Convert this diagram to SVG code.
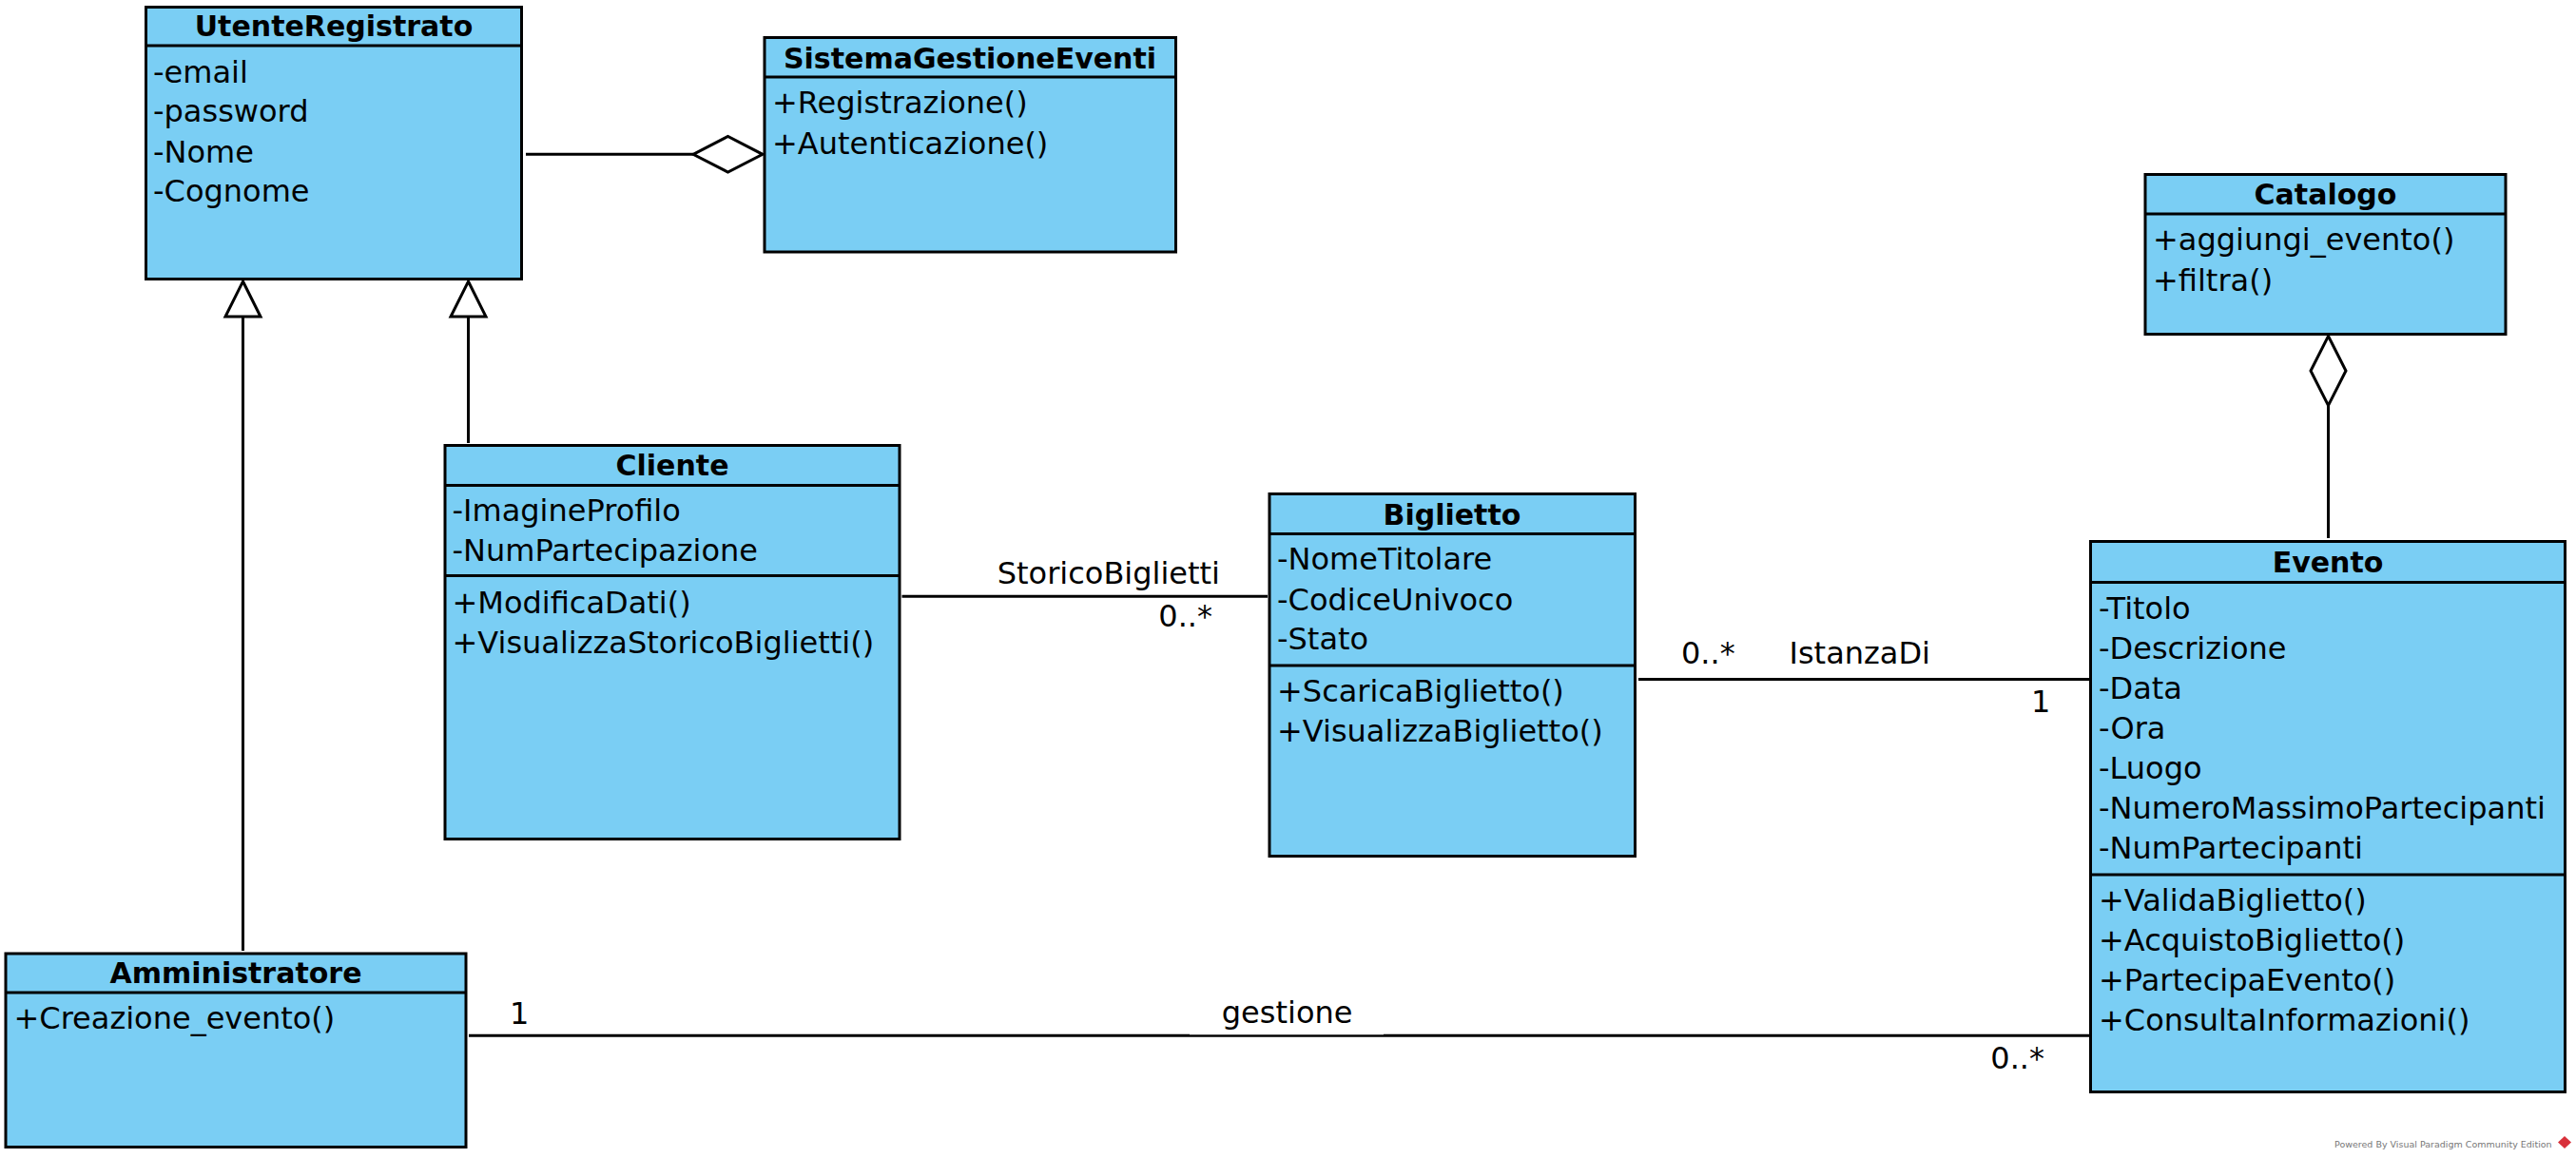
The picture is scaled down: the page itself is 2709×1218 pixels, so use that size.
<svg xmlns="http://www.w3.org/2000/svg" width="2709" height="1218" viewBox="0 0 2709 1218">
<style>
.box{fill:#7ACEF4;stroke:#000;stroke-width:3}
.sep{stroke:#000;stroke-width:3}
.title{font-family:"DejaVu Sans",sans-serif;font-weight:bold;font-size:30px;text-anchor:middle;fill:#000}
.t{font-family:"DejaVu Sans",sans-serif;font-size:32px;fill:#000}
.ln{stroke:#000;stroke-width:3;fill:none}
.hd{fill:#fff;stroke:#000;stroke-width:3;stroke-linejoin:miter}
.wm{font-family:"DejaVu Sans",sans-serif;font-size:9.5px;fill:#777}
</style>
<rect width="2709" height="1218" fill="#fff"/>
<g id="connectors">
  <line class="ln" x1="553" y1="162.3" x2="729" y2="162.3"/>
  <polygon class="hd" points="729,162.3 765.5,143.5 802,162.3 765.5,181"/>
  <line class="ln" x1="2448.5" y1="426.5" x2="2448.5" y2="566"/>
  <polygon class="hd" points="2448.5,353.5 2467,390 2448.5,426.5 2430,390"/>
  <line class="ln" x1="492.5" y1="466" x2="492.5" y2="333"/>
  <polygon class="hd" points="492.5,296 511,333 474,333"/>
  <line class="ln" x1="255.5" y1="1000" x2="255.5" y2="333"/>
  <polygon class="hd" points="255.5,296 274,333 237,333"/>
  <line class="ln" x1="948.5" y1="627.3" x2="1333" y2="627.3"/>
  <text class="t" x="1283" y="614" text-anchor="end">StoricoBiglietti</text>
  <text class="t" x="1275" y="659" text-anchor="end">0..*</text>
  <line class="ln" x1="1723" y1="714.5" x2="2197" y2="714.5"/>
  <text class="t" x="1768" y="698">0..*</text>
  <text class="t" x="1881.5" y="698">IstanzaDi</text>
  <text class="t" x="2136" y="749">1</text>
  <line class="ln" x1="493" y1="1089.3" x2="2197" y2="1089.3"/>
  <rect x="1251" y="1050" width="204" height="38.3" fill="#fff"/>
  <text class="t" x="536" y="1076.7">1</text>
  <text class="t" x="1284.8" y="1076">gestione</text>
  <text class="t" x="2150" y="1124" text-anchor="end">0..*</text>
</g>
<g id="UtenteRegistrato">
  <rect class="box" x="153.5" y="7.5" width="395" height="286"/>
  <line class="sep" x1="153.5" y1="48" x2="548.5" y2="48"/>
  <text class="title" x="351" y="38">UtenteRegistrato</text>
  <text class="t" x="161" y="87">-email</text>
  <text class="t" x="161" y="128">-password</text>
  <text class="t" x="161" y="170.5">-Nome</text>
  <text class="t" x="161" y="212">-Cognome</text>
</g>
<g id="SistemaGestioneEventi">
  <rect class="box" x="804" y="39.5" width="432.5" height="225.5"/>
  <line class="sep" x1="804" y1="81" x2="1236.5" y2="81"/>
  <text class="title" x="1020" y="71.7">SistemaGestioneEventi</text>
  <text class="t" x="812" y="119">+Registrazione()</text>
  <text class="t" x="812" y="161.5">+Autenticazione()</text>
</g>
<g id="Catalogo">
  <rect class="box" x="2256" y="183.5" width="379" height="168"/>
  <line class="sep" x1="2256" y1="225" x2="2635" y2="225"/>
  <text class="title" x="2445.5" y="215">Catalogo</text>
  <text class="t" x="2264" y="263">+aggiungi_evento()</text>
  <text class="t" x="2264" y="305.5">+filtra()</text>
</g>
<g id="Cliente">
  <rect class="box" x="468" y="468.5" width="478" height="414"/>
  <line class="sep" x1="468" y1="510.5" x2="946" y2="510.5"/>
  <line class="sep" x1="468" y1="605.5" x2="946" y2="605.5"/>
  <text class="title" x="707" y="500">Cliente</text>
  <text class="t" x="475.5" y="548">-ImagineProfilo</text>
  <text class="t" x="475.5" y="590">-NumPartecipazione</text>
  <text class="t" x="475.5" y="645">+ModificaDati()</text>
  <text class="t" x="475.5" y="686.5">+VisualizzaStoricoBiglietti()</text>
</g>
<g id="Biglietto">
  <rect class="box" x="1335" y="519.5" width="384.5" height="381"/>
  <line class="sep" x1="1335" y1="561.5" x2="1719.5" y2="561.5"/>
  <line class="sep" x1="1335" y1="700" x2="1719.5" y2="700"/>
  <text class="title" x="1527" y="551.5">Biglietto</text>
  <text class="t" x="1343" y="599">-NomeTitolare</text>
  <text class="t" x="1343" y="641.5">-CodiceUnivoco</text>
  <text class="t" x="1343" y="682.5">-Stato</text>
  <text class="t" x="1343" y="738">+ScaricaBiglietto()</text>
  <text class="t" x="1343" y="780">+VisualizzaBiglietto()</text>
</g>
<g id="Evento">
  <rect class="box" x="2198.5" y="569.5" width="499" height="579"/>
  <line class="sep" x1="2198.5" y1="612.5" x2="2697.5" y2="612.5"/>
  <line class="sep" x1="2198.5" y1="920" x2="2697.5" y2="920"/>
  <text class="title" x="2448" y="602">Evento</text>
  <text class="t" x="2207" y="650.5">-Titolo</text>
  <text class="t" x="2207" y="692.5">-Descrizione</text>
  <text class="t" x="2207" y="734.5">-Data</text>
  <text class="t" x="2207" y="776.5">-Ora</text>
  <text class="t" x="2207" y="818.5">-Luogo</text>
  <text class="t" x="2207" y="861">-NumeroMassimoPartecipanti</text>
  <text class="t" x="2207" y="903">-NumPartecipanti</text>
  <text class="t" x="2207" y="958">+ValidaBiglietto()</text>
  <text class="t" x="2207" y="1000">+AcquistoBiglietto()</text>
  <text class="t" x="2207" y="1042">+PartecipaEvento()</text>
  <text class="t" x="2207" y="1084">+ConsultaInformazioni()</text>
</g>
<g id="Amministratore">
  <rect class="box" x="6" y="1003" width="484" height="203.5"/>
  <line class="sep" x1="6" y1="1044" x2="490" y2="1044"/>
  <text class="title" x="248" y="1034">Amministratore</text>
  <text class="t" x="14.5" y="1081.5">+Creazione_evento()</text>
</g>
<g id="watermark">
  <text class="wm" x="2455" y="1207">Powered By Visual Paradigm Community Edition</text>
  <polygon points="2697,1195 2704,1201.5 2697,1208 2690,1201.5" fill="#d8303a"/>
</g>
</svg>
